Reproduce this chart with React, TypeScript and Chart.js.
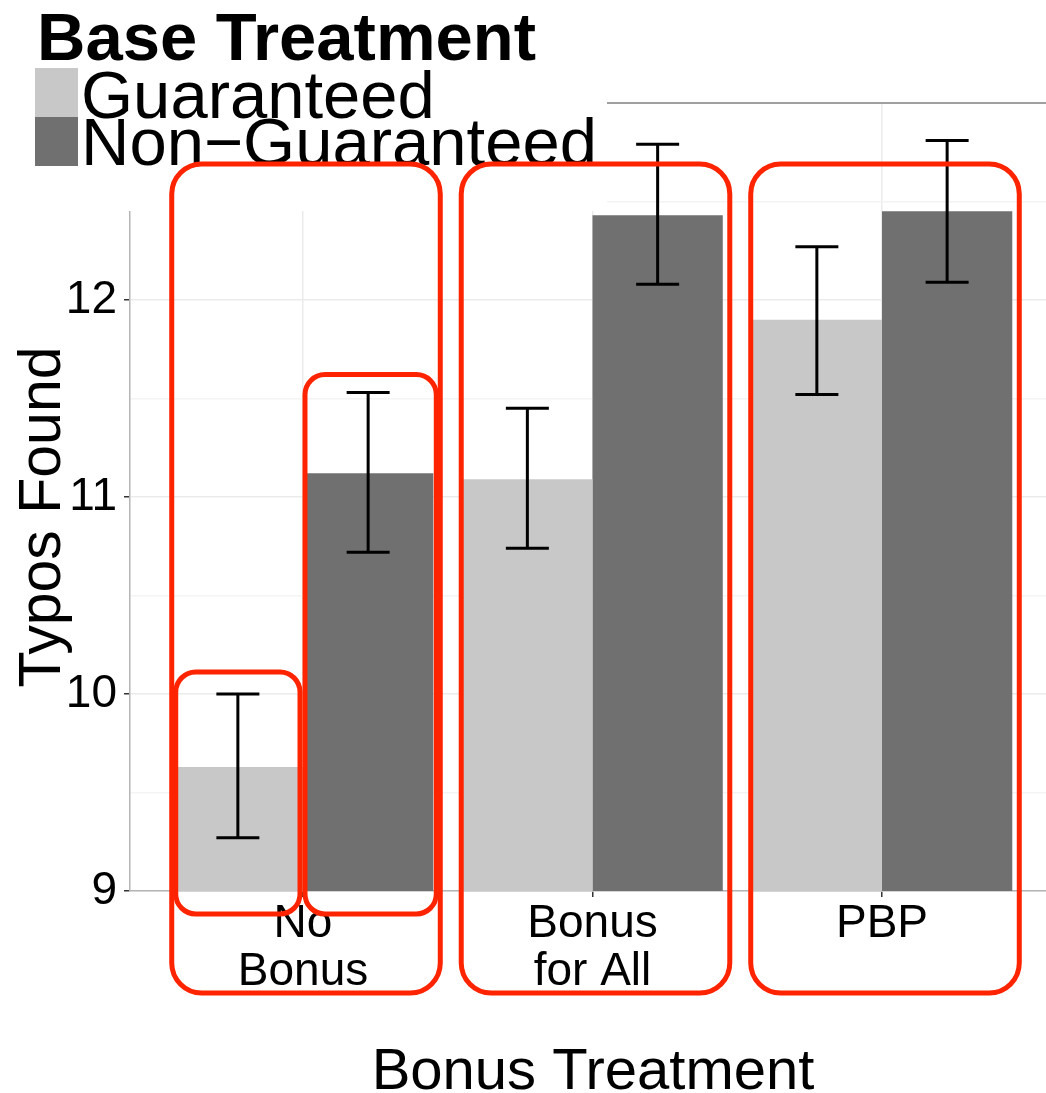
import React, { useEffect, useRef } from 'react';
import { Chart, registerables } from 'chart.js';

Chart.register(...registerables);

// ---- data ----
const categories: string[][] = [['No', 'Bonus'], ['Bonus', 'for All'], ['PBP']];
const categoryPositions = [1, 2, 3];
const seriesNames = ['Guaranteed', 'Non\u2212Guaranteed'];
const legendTitle = 'Base Treatment';
const xTitle = 'Bonus Treatment';
const yTitle = 'Typos Found';

const guaranteedMeans = [9.63, 11.09, 11.9];
const guaranteedLow = [9.27, 10.74, 11.52];
const guaranteedHigh = [10.0, 11.45, 12.27];

const nonGuaranteedMeans = [11.12, 12.43, 12.45];
const nonGuaranteedLow = [10.72, 12.08, 12.09];
const nonGuaranteedHigh = [11.53, 12.79, 12.81];

const yTickLabels = [9, 10, 11, 12];
const yMin = 9;
const yMax = 13;

// highlighted (annotated) items
const highlightGroups = [0, 1, 2];
const highlightBars = [
  { dataset: 0, index: 0 },
  { dataset: 1, index: 0 },
];

const lightGray = '#c8c8c8';
const darkGray = '#707070';
const red = '#ff2400';
const FONT = "'Liberation Sans', Arial, Helvetica, sans-serif";

function roundRect(ctx: CanvasRenderingContext2D, x1: number, y1: number, x2: number, y2: number, r: number) {
  ctx.beginPath();
  ctx.moveTo(x1 + r, y1);
  ctx.lineTo(x2 - r, y1);
  ctx.arcTo(x2, y1, x2, y1 + r, r);
  ctx.lineTo(x2, y2 - r);
  ctx.arcTo(x2, y2, x2 - r, y2, r);
  ctx.lineTo(x1 + r, y2);
  ctx.arcTo(x1, y2, x1, y2 - r, r);
  ctx.lineTo(x1, y1 + r);
  ctx.arcTo(x1, y1, x1 + r, y1, r);
  ctx.closePath();
  ctx.stroke();
}

const overlayPlugin = {
  id: 'overlay',
  afterDatasetsDraw(chart: any) {
    const ctx: CanvasRenderingContext2D = chart.ctx;
    const y = chart.scales.y;
    const lows = [guaranteedLow, nonGuaranteedLow];
    const highs = [guaranteedHigh, nonGuaranteedHigh];
    ctx.save();
    ctx.strokeStyle = '#000';
    ctx.lineWidth = 3;
    for (let d = 0; d < 2; d++) {
      const meta = chart.getDatasetMeta(d);
      meta.data.forEach((el: any, i: number) => {
        const cx = el.x;
        const half = el.width * 0.165;
        const yl = y.getPixelForValue(lows[d][i]);
        const yh = y.getPixelForValue(highs[d][i]);
        ctx.beginPath();
        ctx.moveTo(cx, yl);
        ctx.lineTo(cx, yh);
        ctx.moveTo(cx - half, yl);
        ctx.lineTo(cx + half, yl);
        ctx.moveTo(cx - half, yh);
        ctx.lineTo(cx + half, yh);
        ctx.stroke();
      });
    }
    ctx.restore();
  },
  afterDraw(chart: any) {
    const ctx: CanvasRenderingContext2D = chart.ctx;
    const y = chart.scales.y;
    const area = chart.chartArea;
    ctx.save();
    // legend background
    ctx.fillStyle = '#ffffff';
    ctx.fillRect(0, 0, 607, 211);
    // legend
    ctx.fillStyle = '#000';
    ctx.textAlign = 'left';
    ctx.textBaseline = 'alphabetic';
    ctx.font = `bold 67px ${FONT}`;
    ctx.fillText(legendTitle, 37, 60);
    ctx.fillStyle = lightGray;
    ctx.fillRect(35, 68, 43, 49);
    ctx.fillStyle = darkGray;
    ctx.fillRect(35, 117, 43, 49);
    ctx.fillStyle = '#000';
    ctx.font = `67px ${FONT}`;
    ctx.fillText(seriesNames[0], 81, 118);
    ctx.fillText(seriesNames[1], 81, 165);

    // axis titles
    ctx.font = `58px ${FONT}`;
    ctx.textAlign = 'center';
    ctx.fillText(xTitle, 593, 1089);
    ctx.save();
    ctx.translate(60, 517);
    ctx.rotate(-Math.PI / 2);
    ctx.font = `59px ${FONT}`;
    ctx.fillText(yTitle, 0, 0);
    ctx.restore();

    // red highlight boxes
    ctx.strokeStyle = red;
    ctx.lineWidth = 5;
    const m0 = chart.getDatasetMeta(0);
    const m1 = chart.getDatasetMeta(1);
    highlightGroups.forEach((i) => {
      const g = m0.data[i] as any;
      const n = m1.data[i] as any;
      const left = g.x - g.width / 2 - 1;
      const right = n.x + n.width / 2 + 7;
      roundRect(ctx, left, y.getPixelForValue(12.69), right, area.bottom + 102, 30);
    });
    highlightBars.forEach(({ dataset, index }) => {
      const el = chart.getDatasetMeta(dataset).data[index] as any;
      const hi = dataset === 0 ? guaranteedHigh[index] : nonGuaranteedHigh[index];
      const left = el.x - el.width / 2 + (dataset === 0 ? 3 : 2);
      const right = el.x + el.width / 2 + (dataset === 0 ? -3 : 3);
      const top = y.getPixelForValue(hi) - (dataset === 0 ? 22 : 18);
      roundRect(ctx, left, top, right, area.bottom + 23, 20);
    });
    ctx.restore();
  },
};

export default function App() {
  const ref = useRef<HTMLCanvasElement | null>(null);
  useEffect(() => {
    if (!ref.current) return;
    Chart.defaults.font.family = FONT;
    Chart.defaults.color = '#000';
    const chart = new Chart(ref.current, {
      type: 'bar',
      data: {
        datasets: [
          {
            label: seriesNames[0],
            data: categoryPositions.map((x, i) => ({ x, y: guaranteedMeans[i] })),
            backgroundColor: lightGray,
            borderWidth: 0,
            categoryPercentage: 0.9,
            barPercentage: 1,
          },
          {
            label: seriesNames[1],
            data: categoryPositions.map((x, i) => ({ x, y: nonGuaranteedMeans[i] })),
            backgroundColor: darkGray,
            borderWidth: 0,
            categoryPercentage: 0.9,
            barPercentage: 1,
          },
        ],
      },
      options: {
        responsive: false,
        animation: false,
        devicePixelRatio: 1,
        layout: { padding: { top: 103, left: 0, right: 0, bottom: 0 } },
        plugins: { legend: { display: false }, tooltip: { enabled: false } },
        scales: {
          x: {
            type: 'linear',
            min: 0.4024,
            max: 3.5665,
            offset: false,
            grid: {
              offset: false,
              color: '#ebebeb',
              lineWidth: 1.5,
              drawTicks: true,
              tickLength: 6,
              tickColor: '#333',
              tickWidth: 1.5,
            },
            border: { display: true, color: '#b5b5b5', width: 1.5 },
            afterBuildTicks: (scale: any) => {
              scale.ticks = categoryPositions.map((v) => ({ value: v }));
            },
            afterFit: (scale: any) => {
              scale.height = 202;
            },
            ticks: {
              autoSkip: false,
              maxRotation: 0,
              minRotation: 0,
              padding: 3,
              color: '#000',
              font: { size: 46, lineHeight: 1.05 },
              callback: (value: any) => {
                const i = categoryPositions.indexOf(Number(value));
                return i >= 0 ? categories[i] : '';
              },
            },
          },
          y: {
            type: 'linear',
            min: yMin,
            max: yMax,
            grid: {
              color: (c: any) => {
                const v = c.tick ? c.tick.value : 0;
                if (v === yMax) return '#a0a0a0';
                return Number.isInteger(v) ? '#ebebeb' : '#f4f4f4';
              },
              lineWidth: (c: any) => (c.tick && c.tick.value === yMax ? 2 : 1.5),
              tickLength: 6,
              tickColor: (c: any) =>
                c.tick && yTickLabels.includes(c.tick.value) ? '#333' : 'rgba(0,0,0,0)',
              tickWidth: 1.5,
            },
            border: { display: true, color: '#b5b5b5', width: 1.5 },
            afterFit: (scale: any) => {
              scale.width = 130;
            },
            ticks: {
              stepSize: 0.5,
              padding: 7,
              color: '#000',
              font: { size: 46 },
              callback: (value: any) => (yTickLabels.includes(Number(value)) ? String(value) : ''),
            },
          },
        },
      },
      plugins: [overlayPlugin],
    } as any);
    return () => chart.destroy();
  }, []);
  return (
    <div style={{ position: 'absolute', left: 0, top: 0, width: 1046, height: 1093, background: '#fff' }}>
      <canvas ref={ref} width={1046} height={1093} />
    </div>
  );
}
